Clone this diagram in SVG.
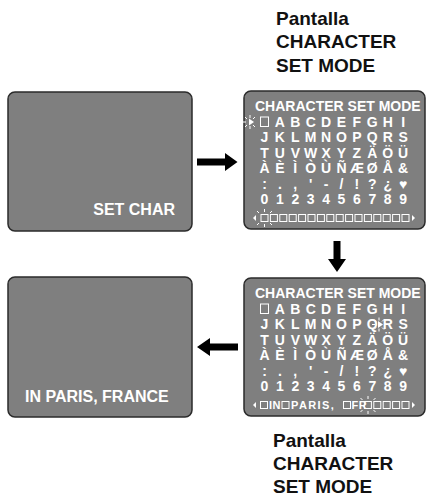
<svg xmlns="http://www.w3.org/2000/svg" width="427" height="499" viewBox="0 0 427 499">
<defs>
<style>
.scr{fill:#7f7f7f;stroke:#2b2b2b;stroke-width:1.5}
.lbl{font-family:"Liberation Sans",Arial,sans-serif;font-weight:bold;font-size:16px;fill:#ffffff}
.ttl{font-family:"Liberation Sans",Arial,sans-serif;font-weight:bold;font-size:14px;fill:#ffffff}
.grid{font-family:"Liberation Sans",Arial,sans-serif;font-weight:bold;font-size:14px;fill:#ffffff;text-anchor:middle}
.row{font-family:"Liberation Sans",Arial,sans-serif;font-weight:bold;font-size:11px;fill:#ffffff;letter-spacing:1px}
.cap{font-family:"Liberation Sans",Arial,sans-serif;font-weight:bold;font-size:19px;fill:#111111}
.bx{fill:none;stroke:#ffffff;stroke-width:1}
.sp{stroke:#ffffff;stroke-width:1;fill:none}
.arr{fill:#000000}
</style>
<g id="spark" class="sp">
<line x1="-4" y1="0" x2="-7" y2="0"/>
<line x1="-3" y1="-3" x2="-5" y2="-5"/>
<line x1="-3" y1="3" x2="-5" y2="5"/>
<line x1="0" y1="-4" x2="0" y2="-7"/>
<line x1="0" y1="4" x2="0" y2="7"/>
<line x1="3" y1="-3" x2="5" y2="-5"/>
<line x1="3" y1="3" x2="5" y2="5"/>
</g>
</defs>
<rect width="427" height="499" fill="#ffffff"/>

<g id="connectors">
<path class="arr" d="M197,158.5 H225 V153 L237.5,162 L225,171 V165.5 H197 Z"/>
<path class="arr" d="M333.5,241 V259 H328 L337,272 L346,259 H340.5 V241 Z"/>
<path class="arr" d="M238,343.5 H210 V338 L197,347 L210,356 V350.5 H238 Z"/>
</g>

<g id="label-top">
<text class="cap" x="276" y="25">Pantalla</text>
<text class="cap" x="276" y="48">CHARACTER</text>
<text class="cap" x="276" y="72">SET MODE</text>
</g>

<g id="screen-setchar">
<rect class="scr" x="8" y="92" width="184" height="139" rx="7"/>
<text class="lbl" x="175" y="215" text-anchor="end">SET CHAR</text>
</g>

<g id="screen-charset-1">
<rect class="scr" x="244" y="91" width="181" height="138" rx="7"/>
<text class="ttl" x="255" y="111">CHARACTER SET MODE</text>
<rect class="bx" x="260.5" y="117" width="8" height="9.5"/>
<text class="grid" x="279.9 295.3 310.7 326.1 341.5 356.9 372.3 387.7 403.1" y="127">ABCDEFGHI</text>
<text class="grid" x="264.5 279.9 295.3 310.7 326.1 341.5 356.9 372.3 387.7 403.1" y="142.4">JKLMNOPQRS</text>
<text class="grid" x="264.5 279.9 295.3 310.7 326.1 341.5 356.9 372.3 387.7 403.1" y="157.8">TUVWXYZÄÖÜ</text>
<text class="grid" x="264.5 279.9 295.3 310.7 326.1 341.5 356.9 372.3 387.7 403.1" y="173.2">ÀÈÌÒÙÑÆØÅ&amp;</text>
<text class="grid" x="264.5 279.9 295.3 310.7 326.1 341.5 356.9 372.3 387.7 403.1" y="188.6">:.,'-/!?¿♥</text>
<text class="grid" x="264.5 279.9 295.3 310.7 326.1 341.5 356.9 372.3 387.7 403.1" y="204">0123456789</text>
<path fill="#ffffff" d="M249,118.5 L254,122 L249,125.5 Z"/>
<use href="#spark" x="250" y="122"/>
<path fill="#ffffff" d="M256,215 L253,218 L256,221 Z"/>
<g class="bx">
<rect x="261" y="214.5" width="7" height="7"/><rect x="270.4" y="214.5" width="7" height="7"/><rect x="279.8" y="214.5" width="7" height="7"/><rect x="289.2" y="214.5" width="7" height="7"/><rect x="298.6" y="214.5" width="7" height="7"/><rect x="308" y="214.5" width="7" height="7"/><rect x="317.4" y="214.5" width="7" height="7"/><rect x="326.8" y="214.5" width="7" height="7"/><rect x="336.2" y="214.5" width="7" height="7"/><rect x="345.6" y="214.5" width="7" height="7"/><rect x="355" y="214.5" width="7" height="7"/><rect x="364.4" y="214.5" width="7" height="7"/><rect x="373.8" y="214.5" width="7" height="7"/><rect x="383.2" y="214.5" width="7" height="7"/><rect x="392.6" y="214.5" width="7" height="7"/><rect x="402" y="214.5" width="7" height="7"/>
</g>
<path fill="#ffffff" d="M412,215 L415,218 L412,221 Z"/>
<g class="sp">
<line x1="259" y1="213" x2="257" y2="211"/><line x1="259" y1="223" x2="257" y2="225"/><line x1="264.5" y1="212" x2="264.5" y2="209"/><line x1="264.5" y1="224" x2="264.5" y2="227"/><line x1="270" y1="213" x2="272" y2="211"/><line x1="270" y1="223" x2="272" y2="225"/>
</g>
</g>

<g id="screen-charset-2">
<rect class="scr" x="244" y="278" width="181" height="138" rx="7"/>
<text class="ttl" x="255" y="298">CHARACTER SET MODE</text>
<rect class="bx" x="260.5" y="304" width="8" height="9.5"/>
<text class="grid" x="279.9 295.3 310.7 326.1 341.5 356.9 372.3 387.7 403.1" y="314">ABCDEFGHI</text>
<text class="grid" x="264.5 279.9 295.3 310.7 326.1 341.5 356.9 372.3 387.7 403.1" y="329.4">JKLMNOPQRS</text>
<text class="grid" x="264.5 279.9 295.3 310.7 326.1 341.5 356.9 372.3 387.7 403.1" y="344.8">TUVWXYZÄÖÜ</text>
<text class="grid" x="264.5 279.9 295.3 310.7 326.1 341.5 356.9 372.3 387.7 403.1" y="360.2">ÀÈÌÒÙÑÆØÅ&amp;</text>
<text class="grid" x="264.5 279.9 295.3 310.7 326.1 341.5 356.9 372.3 387.7 403.1" y="375.6">:.,'-/!?¿♥</text>
<text class="grid" x="264.5 279.9 295.3 310.7 326.1 341.5 356.9 372.3 387.7 403.1" y="391">0123456789</text>
<path fill="#ffffff" d="M378,321 L383,324.5 L378,328 Z"/>
<use href="#spark" x="379" y="324.5"/>
<path fill="#ffffff" d="M256,402 L253,405 L256,408 Z"/>
<g class="bx">
<rect x="260.5" y="401.5" width="7" height="7"/><rect x="282" y="401.5" width="7" height="7"/><rect x="343.5" y="401.5" width="7" height="7"/>
<rect x="364.4" y="401.5" width="7" height="7"/><rect x="373.8" y="401.5" width="7" height="7"/><rect x="383.2" y="401.5" width="7" height="7"/><rect x="392.6" y="401.5" width="7" height="7"/><rect x="402" y="401.5" width="7" height="7"/>
</g>
<text class="row" x="269" y="409" style="letter-spacing:0.5px">IN</text>
<text class="row" x="291" y="409" style="letter-spacing:1.4px">PARIS,</text>
<text class="row" x="351.5" y="409" style="letter-spacing:0.5px">FR</text>
<path fill="#ffffff" d="M412,402 L415,405 L412,408 Z"/>
<g class="sp">
<line x1="362.5" y1="400" x2="360.5" y2="398"/><line x1="362.5" y1="410" x2="360.5" y2="412"/><line x1="368" y1="399" x2="368" y2="396"/><line x1="368" y1="411" x2="368" y2="414"/><line x1="373.5" y1="400" x2="375.5" y2="398"/><line x1="373.5" y1="410" x2="375.5" y2="412"/>
</g>
</g>

<g id="screen-paris">
<rect class="scr" x="8" y="277" width="184" height="140" rx="7"/>
<text class="lbl" x="25" y="402">IN PARIS, FRANCE</text>
</g>

<g id="label-bottom">
<text class="cap" x="273" y="447">Pantalla</text>
<text class="cap" x="273" y="470">CHARACTER</text>
<text class="cap" x="273" y="493">SET MODE</text>
</g>
</svg>
